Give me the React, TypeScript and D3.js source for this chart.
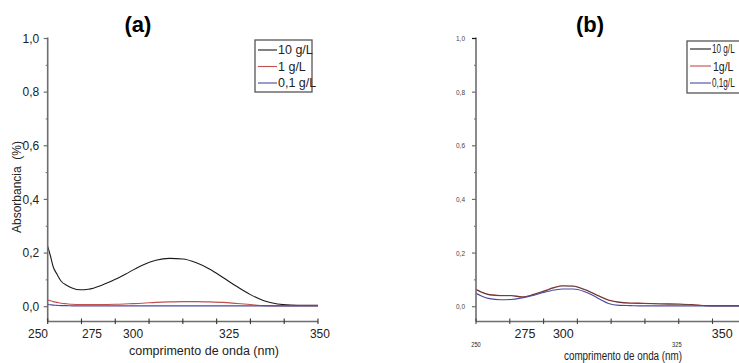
import React from "react";
import * as d3 from "d3";

// ---------- data ----------
const wavelengthsA = [250, 251, 252, 253.5, 255, 257, 259, 262, 265, 270, 275, 280, 285, 290, 295, 300, 305, 310, 315, 320, 325, 330, 335, 340, 345, 350];
const a10gL = [0.225, 0.19, 0.15, 0.12, 0.095, 0.08, 0.07, 0.063, 0.065, 0.08, 0.102, 0.128, 0.155, 0.173, 0.18, 0.178, 0.164, 0.14, 0.108, 0.075, 0.045, 0.022, 0.01, 0.006, 0.005, 0.005];
const a1gL = [0.025, 0.022, 0.019, 0.016, 0.013, 0.011, 0.009, 0.008, 0.008, 0.008, 0.009, 0.011, 0.013, 0.016, 0.018, 0.019, 0.019, 0.018, 0.016, 0.012, 0.008, 0.004, 0.003, 0.003, 0.003, 0.003];
const a01gL = [0.008, 0.007, 0.006, 0.005, 0.004, 0.004, 0.003, 0.003, 0.003, 0.003, 0.003, 0.003, 0.003, 0.003, 0.003, 0.003, 0.003, 0.003, 0.003, 0.003, 0.003, 0.003, 0.003, 0.003, 0.003, 0.003];

const wavelengthsB = [250, 252, 255, 259, 263, 267, 271, 275, 279, 282, 286, 290, 293, 296, 299, 303, 307, 312, 318, 325, 330, 335, 340, 345, 350];
const b10gL = [0.063, 0.054, 0.044, 0.041, 0.041, 0.036, 0.044, 0.057, 0.071, 0.077, 0.076, 0.064, 0.051, 0.037, 0.024, 0.016, 0.013, 0.012, 0.01, 0.009, 0.007, 0.004, 0.003, 0.003, 0.003];
const b1gL = [0.065, 0.055, 0.045, 0.042, 0.042, 0.037, 0.045, 0.058, 0.072, 0.078, 0.077, 0.065, 0.052, 0.038, 0.025, 0.017, 0.014, 0.013, 0.011, 0.01, 0.008, 0.004, 0.003, 0.003, 0.003];
const b01gL = [0.05, 0.04, 0.03, 0.026, 0.027, 0.033, 0.042, 0.053, 0.062, 0.066, 0.066, 0.057, 0.044, 0.027, 0.012, 0.005, 0.004, 0.003, 0.003, 0.003, 0.003, 0.003, 0.003, 0.003, 0.003];

const yTickValues = [0, 0.2, 0.4, 0.6, 0.8, 1.0];
const yTickLabels = ["0,0", "0,2", "0,4", "0,6", "0,8", "1,0"];
const xTickLabels = ["250", "275", "300", "325", "350"];
const xLabelAtA = [246.4, 266.4, 281.6, 317.1, 350.7];
const xLabelAtB = [250, 268.1, 282.3, 324.3, 341.1];
const xLabelBig = [false, true, true, false, true];
const legendA = ["10 g/L", "1 g/L", "0,1 g/L"];
const legendB = ["10 g/L", "1g/L", "0,1g/L"];
const colors = ["#1a1a1a", "#c0504d", "#4a4aa0"];

const SANS = "'Liberation Sans', Arial, sans-serif";

type PanelProps = {
  x0: number;
  wl: number[];
  series: number[][];
  opacities: number[];
  order: number[];
  variant: "a" | "b";
};

function Panel({ x0, wl, series, opacities, order, variant }: PanelProps) {
  const x = d3.scaleLinear().domain([250, 350]).range([x0, x0 + 270.3]);
  const y = d3.scaleLinear().domain([0, 1]).range([306.7, 38.5]);
  const yBottom = 321.5;
  const line = d3
    .line<[number, number]>()
    .x((d) => x(d[0]))
    .y((d) => y(d[1]))
    .curve(d3.curveMonotoneX);
  const xTicks = d3.range(250, 350.01, 12.5);
  const minorY = [0.1, 0.3, 0.5, 0.7, 0.9];
  const isA = variant === "a";
  const axisColor = "#6e6e6e";
  return (
    <g>
      {order.map((i) => (
        <path
          key={"s" + i}
          d={line(wl.map((w, k) => [w, series[i][k]] as [number, number])) || ""}
          fill="none"
          stroke={colors[i]}
          strokeWidth={1.1}
          strokeOpacity={opacities[i]}
        />
      ))}
      <line x1={x0} x2={x0} y1={y(1) - 1} y2={yBottom} stroke={axisColor} strokeWidth={1.6} />
      {yTickValues.map((v) => (
        <line key={"yt" + v} x1={x0 - 4} x2={x0} y1={y(v)} y2={y(v)} stroke={isA ? axisColor : v === 1 ? "#111" : axisColor} strokeWidth={1.2} />
      ))}
      {minorY.map((v) => (
        <line key={"ym" + v} x1={x0 - 2} x2={x0} y1={y(v)} y2={y(v)} stroke={axisColor} strokeWidth={1} />
      ))}
      {yTickValues.map((v, i) => (
        <text
          key={"yl" + v}
          x={isA ? x0 - 8.5 : x0 - 11}
          y={y(v)}
          dy="0.35em"
          textAnchor="end"
          fontFamily={SANS}
          fontSize={isA ? 12 : 7}
          fill={isA ? "#222" : "#444"}
          textLength={isA ? undefined : 9}
          lengthAdjust="spacingAndGlyphs"
        >
          {yTickLabels[i]}
        </text>
      ))}
      <line x1={x0} x2={x(350)} y1={yBottom} y2={yBottom} stroke={axisColor} strokeWidth={1.6} />
      {xTicks.map((t) => (
        <line key={"xt" + t} x1={x(t)} x2={x(t)} y1={yBottom - 3} y2={yBottom + 2.5} stroke={isA ? "#333" : "#444"} strokeWidth={1.1} />
      ))}
      {xTickLabels.map((s, i) => {
        const at = isA ? xLabelAtA[i] : xLabelAtB[i];
        const big = isA || xLabelBig[i];
        return (
          <text
            key={"xl" + s}
            x={x(at)}
            y={big ? 338 : 347}
            textAnchor="middle"
            fontFamily={SANS}
            fontSize={big ? (isA ? 12 : 12.5) : 7}
            fill="#222"
            textLength={big ? undefined : 9.5}
            lengthAdjust="spacingAndGlyphs"
          >
            {s}
          </text>
        );
      })}
    </g>
  );
}

export default function App() {
  return (
    <svg
      width={739}
      height={363}
      viewBox="0 0 739 363"
      style={{ position: "absolute", left: 0, top: 0, background: "#fff" }}
    >
      <rect width={739} height={363} fill="#fff" />
      {/* Panel (a) */}
      <text x={138} y={32} textAnchor="middle" fontFamily={SANS} fontWeight="bold" fontSize={22}>
        (a)
      </text>
      <Panel x0={47.7} wl={wavelengthsA} series={[a10gL, a1gL, a01gL]} opacities={[1, 1, 1]} order={[0, 1, 2]} variant="a" />
      <text
        transform="translate(21,187) rotate(-90)"
        textAnchor="middle"
        fontFamily={SANS}
        fontSize={12}
        fill="#222"
        style={{ whiteSpace: "pre" }}
      >
        {"Absorbancia  (%)"}
      </text>
      <text x={204} y={355} textAnchor="middle" fontFamily={SANS} fontSize={12.5} fill="#222">
        comprimento de onda (nm)
      </text>
      <rect x={255} y={40} width={57} height={52} fill="none" stroke="#555" strokeWidth={1.3} />
      {legendA.map((s, i) => (
        <g key={"la" + s}>
          <line x1={258} x2={277} y1={50 + i * 16.5} y2={50 + i * 16.5} stroke={colors[i]} strokeWidth={1.1} />
          <text x={278} y={50 + i * 16.5} dy="0.35em" fontFamily={SANS} fontSize={12.5} fill="#222">
            {s}
          </text>
        </g>
      ))}

      {/* Panel (b) */}
      <text x={590} y={32} textAnchor="middle" fontFamily={SANS} fontWeight="bold" fontSize={22}>
        (b)
      </text>
      <Panel x0={476} wl={wavelengthsB} series={[b10gL, b1gL, b01gL]} opacities={[0.55, 1, 1]} order={[1, 0, 2]} variant="b" />
      <text
        x={623}
        y={360}
        textAnchor="middle"
        fontFamily={SANS}
        fontSize={12}
        fill="#222"
        textLength={118}
        lengthAdjust="spacingAndGlyphs"
      >
        comprimento de onda (nm)
      </text>
      <rect x={687} y={41} width={80} height={52} fill="none" stroke="#555" strokeWidth={1.3} />
      {legendB.map((s, i) => (
        <g key={"lb" + s}>
          <line x1={690} x2={711} y1={49 + i * 17} y2={49 + i * 17} stroke={colors[i]} strokeWidth={1.1} />
          <g transform={`translate(${i === 1 ? 713 : 712},${49 + i * 17}) scale(${i === 1 ? 0.78 : 0.68},1)`}>
            <text
              x={0}
              y={0}
              dy="0.35em"
              fontFamily={SANS}
              fontSize={i === 1 ? 13.5 : 12}
              fill="#222"
            >
              {s}
            </text>
          </g>
        </g>
      ))}
    </svg>
  );
}
